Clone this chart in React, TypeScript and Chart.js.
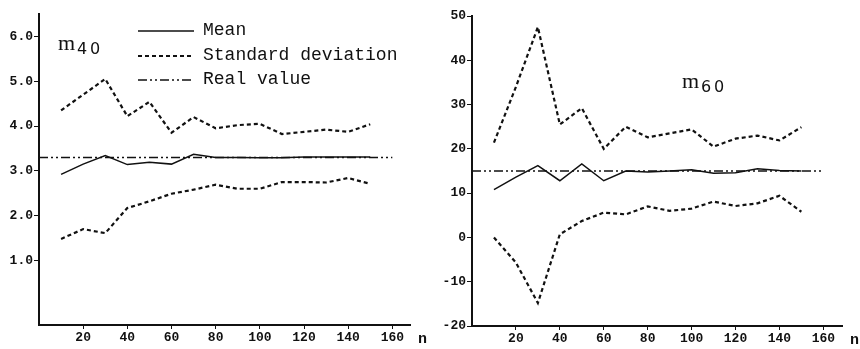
import React, { useEffect, useRef } from "react";
import { Chart, registerables } from "chart.js";

Chart.register(...registerables);

const nValues = [10, 20, 30, 40, 50, 60, 70, 80, 90, 100, 110, 120, 130, 140, 150];

// m40 panel
const m40Upper = [4.35, 4.7, 5.05, 4.22, 4.54, 3.85, 4.2, 3.95, 4.02, 4.05, 3.82, 3.87, 3.92, 3.87, 4.04];
const m40Mean = [2.92, 3.15, 3.34, 3.14, 3.19, 3.15, 3.37, 3.3, 3.3, 3.29, 3.29, 3.31, 3.31, 3.31, 3.31];
const m40Lower = [1.48, 1.7, 1.61, 2.17, 2.32, 2.49, 2.58, 2.69, 2.6, 2.6, 2.75, 2.75, 2.74, 2.84, 2.71];
const m40Real = 3.3;
const m40RealRange = [0, 160];
const m40YTicks = [1, 2, 3, 4, 5, 6];

// m60 panel
const m60Upper = [21.4, 34, 47.5, 25.5, 29.2, 20, 25, 22.6, 23.5, 24.4, 20.5, 22.3, 23, 21.9, 24.9];
const m60Mean = [10.8, 13.6, 16.2, 12.8, 16.6, 12.8, 15, 14.8, 15, 15.3, 14.5, 14.6, 15.5, 15.1, 15];
const m60Lower = [0, -5.7, -14.8, 0.7, 3.7, 5.6, 5.2, 7.0, 6.0, 6.5, 8.1, 7.1, 7.7, 9.4, 5.8];
const m60Real = 15;
const m60RealRange = [0, 159];
const m60YTicks = [-20, -10, 0, 10, 20, 30, 40, 50];

const xTicks = [20, 40, 60, 80, 100, 120, 140, 160];

const legendLabels = ["Mean", "Standard deviation", "Real value"];

const INK = "#111";
const MONO = "'Liberation Mono', 'DejaVu Sans Mono', monospace";
const STD_DASH = [4, 3];
const REAL_DASH = [9, 3, 2, 3, 2, 3];

function pts(ys: number[]) {
  return nValues.map((x, i) => ({ x, y: ys[i] }));
}

type PanelCfg = {
  upper: number[];
  mean: number[];
  lower: number[];
  real: number;
  realRange: number[];
  yTicks: number[];
  yMin: number;
  yMax: number;
  xMax: number;
  yFmt: (v: number) => string;
  padTop: number;
  padRight: number;
  yWidth: number;
  xHeight: number;
  sub: string[];
  labelPos: { dx: number; dy: number };
  legend: boolean;
};

function makeChart(canvas: HTMLCanvasElement, cfg: PanelCfg) {
  const overlay = {
    id: "overlay",
    afterDraw(chart: any) {
      const ctx = chart.ctx as CanvasRenderingContext2D;
      const a = chart.chartArea;
      ctx.save();
      ctx.fillStyle = INK;
      ctx.strokeStyle = INK;
      // axis label n
      ctx.font = `bold 15px ${MONO}`;
      ctx.textAlign = "left";
      ctx.textBaseline = "middle";
      ctx.fillText("n", a.right + 8, a.bottom + 14);
      // m label with subscript
      const lx = a.left + cfg.labelPos.dx;
      const ly = a.top + cfg.labelPos.dy;
      ctx.font = `22px 'Liberation Serif', serif`;
      ctx.textBaseline = "alphabetic";
      ctx.fillText("m", lx, ly);
      ctx.font = `16px 'DejaVu Sans', sans-serif`;
      ctx.fillText(cfg.sub[0], lx + 19, ly + 4);
      ctx.fillText(cfg.sub[1], lx + 32, ly + 4);
      if (cfg.legend) {
        const rows = [
          { dash: [] as number[], w: 1.5 },
          { dash: STD_DASH, w: 2.2 },
          { dash: REAL_DASH, w: 1.5 },
        ];
        const x0 = a.left + 99;
        const x1 = a.left + 155;
        const ys = [a.top + 17, a.top + 42, a.top + 66];
        rows.forEach((r, i) => {
          ctx.beginPath();
          ctx.setLineDash(r.dash);
          ctx.lineWidth = r.w;
          ctx.moveTo(x0, ys[i]);
          ctx.lineTo(x1, ys[i]);
          ctx.stroke();
        });
        ctx.setLineDash([]);
        ctx.font = `18px ${MONO}`;
        ctx.textBaseline = "middle";
        legendLabels.forEach((t, i) => ctx.fillText(t, x1 + 9, ys[i] - 1));
      }
      ctx.restore();
    },
  };

  const std = {
    borderColor: INK,
    borderWidth: 2.2,
    borderDash: STD_DASH,
    pointRadius: 0,
    tension: 0,
    fill: false,
  };

  return new Chart(canvas, {
    type: "line",
    data: {
      datasets: [
        { label: "Standard deviation (upper)", data: pts(cfg.upper), ...std },
        { label: "Standard deviation (lower)", data: pts(cfg.lower), ...std },
        {
          label: "Mean",
          data: pts(cfg.mean),
          borderColor: INK,
          borderWidth: 1.5,
          pointRadius: 0,
          tension: 0,
          fill: false,
        },
        {
          label: "Real value",
          data: cfg.realRange.map((x) => ({ x, y: cfg.real })),
          borderColor: INK,
          borderWidth: 1.5,
          borderDash: REAL_DASH,
          pointRadius: 0,
          fill: false,
        },
      ],
    },
    options: {
      animation: false,
      responsive: false,
      layout: { padding: { top: cfg.padTop, right: cfg.padRight, left: 0, bottom: 0 } },
      plugins: { legend: { display: false }, tooltip: { enabled: false } },
      scales: {
        x: {
          type: "linear",
          min: 0,
          max: cfg.xMax,
          afterBuildTicks: (s: any) => {
            s.ticks = xTicks.map((v) => ({ value: v }));
          },
          afterFit: (s: any) => {
            s.height = cfg.xHeight;
          },
          border: { display: true, color: INK, width: 2 },
          grid: { display: true, drawOnChartArea: false, tickLength: 4, color: INK, lineWidth: 1 },
          ticks: {
            color: INK,
            font: { family: MONO, size: 13, weight: "bold" },
            padding: 1,
            maxRotation: 0,
            autoSkip: false,
          },
        },
        y: {
          type: "linear",
          min: cfg.yMin,
          max: cfg.yMax,
          afterBuildTicks: (s: any) => {
            s.ticks = cfg.yTicks.map((v) => ({ value: v }));
          },
          afterFit: (s: any) => {
            s.width = cfg.yWidth;
          },
          border: { display: true, color: INK, width: 2 },
          grid: { display: true, drawOnChartArea: false, tickLength: 5, color: INK, lineWidth: 1 },
          ticks: {
            color: INK,
            font: { family: MONO, size: 13, weight: "bold" },
            padding: 1,
            autoSkip: false,
            callback: (v: any) => cfg.yFmt(Number(v)),
          },
        },
      },
    },
    plugins: [overlay],
  } as any);
}

export default function App() {
  const leftRef = useRef<HTMLCanvasElement>(null);
  const rightRef = useRef<HTMLCanvasElement>(null);

  useEffect(() => {
    const c1 = makeChart(leftRef.current!, {
      upper: m40Upper,
      mean: m40Mean,
      lower: m40Lower,
      real: m40Real,
      realRange: m40RealRange,
      yTicks: m40YTicks,
      yMin: -0.44,
      yMax: 6.5,
      xMax: 168,
      yFmt: (v) => v.toFixed(1),
      padTop: 14,
      padRight: 20,
      yWidth: 39,
      xHeight: 24,
      sub: ["4", "0"],
      labelPos: { dx: 19, dy: 36 },
      legend: true,
    });
    const c2 = makeChart(rightRef.current!, {
      upper: m60Upper,
      mean: m60Mean,
      lower: m60Lower,
      real: m60Real,
      realRange: m60RealRange,
      yTicks: m60YTicks,
      yMin: -20,
      yMax: 50,
      xMax: 168.5,
      yFmt: (v) => String(v),
      padTop: 16,
      padRight: 18,
      yWidth: 42,
      xHeight: 23,
      sub: ["6", "0"],
      labelPos: { dx: 210, dy: 72 },
      legend: false,
    });
    return () => {
      c1.destroy();
      c2.destroy();
    };
  }, []);

  return (
    <div style={{ position: "fixed", left: 0, top: 0, width: 860, height: 349, background: "#fff" }}>
      <canvas ref={leftRef} width={430} height={349} style={{ position: "absolute", left: 0, top: 0 }} />
      <canvas ref={rightRef} width={430} height={349} style={{ position: "absolute", left: 430, top: 0 }} />
    </div>
  );
}
